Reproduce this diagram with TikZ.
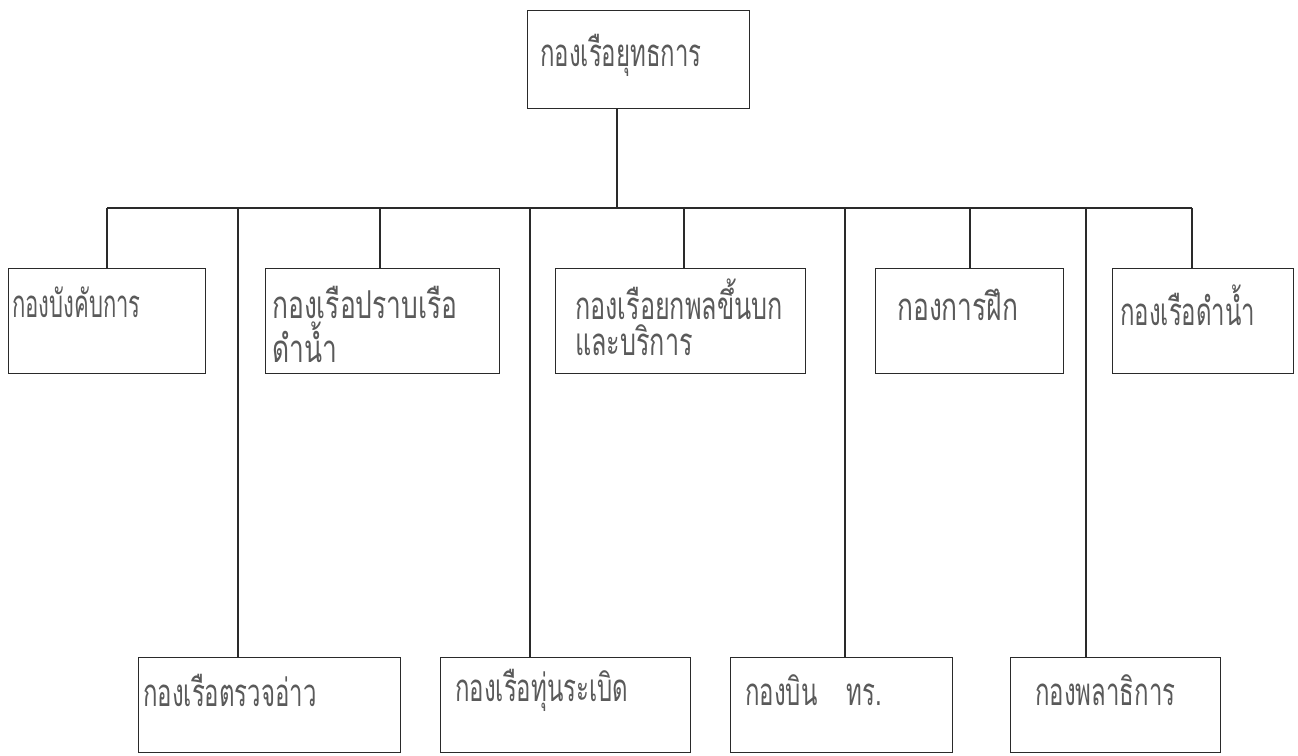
\documentclass[tikz,border=0pt]{standalone}
\usepackage{fontspec}
\newfontfamily\thaifont[Script=Thai]{Loma}
\definecolor{ink}{HTML}{2A2A2A}
\definecolor{txt}{HTML}{5A5A5A}
\begin{document}
\begin{tikzpicture}[x=1pt,y=-1pt,
  boxshape/.style={draw=ink, line width=1.4pt, inner sep=0pt, anchor=north west},
  wire/.style={draw=ink, line width=1.4pt},
  lbl/.style={anchor=west, inner sep=0pt, text=txt, font=\thaifont\fontsize{24}{28}\selectfont}]
\useasboundingbox (0,0) rectangle (1298,755);
% top box
\node[boxshape, minimum width=222pt, minimum height=98pt] (top) at (527,10) {};
\node[lbl] (ttop) at (540,55) {\scalebox{1}[1.6]{กองเรือยุทธการ}};
% bus
\coordinate (busL) at (107,208);
\coordinate (busR) at (1192,208);
\coordinate (busM) at (617,208);
\draw[wire] (top.south -| busM) -- (busM);
\draw[wire] (busL) -- (busR);
% row 1 boxes
\node[boxshape, minimum width=197pt, minimum height=105pt] (a1) at (8,268) {};
\node[boxshape, minimum width=234pt, minimum height=105pt] (a2) at (265,268) {};
\node[boxshape, minimum width=250pt, minimum height=105pt] (a3) at (555,268) {};
\node[boxshape, minimum width=188pt, minimum height=105pt] (a4) at (875,268) {};
\node[boxshape, minimum width=181pt, minimum height=105pt] (a5) at (1112,268) {};
\node[lbl] (ta1) at (12,302) {\scalebox{0.92}[1.6]{กองบังคับการ}};
\node[lbl] (ta2) at (272,302) {\scalebox{1.1}[1.6]{กองเรือปราบเรือ}};
\node[lbl] (ta2b) at (272,342) {\scalebox{1.1}[1.6]{ดำน้ำ}};
\node[lbl] (ta3) at (575,299) {\scalebox{1.05}[1.6]{กองเรือยกพลขึ้นบก}};
\node[lbl] (ta3b) at (575,340) {\scalebox{1.05}[1.6]{และบริการ}};
\node[lbl] (ta4) at (897,305) {\scalebox{1.1}[1.6]{กองการฝึก}};
\node[lbl] (ta5) at (1120,305) {\scalebox{1}[1.6]{กองเรือดำน้ำ}};
% row 2 boxes
\node[boxshape, minimum width=262pt, minimum height=95pt] (b1) at (138,657) {};
\node[boxshape, minimum width=250pt, minimum height=95pt] (b2) at (440,657) {};
\node[boxshape, minimum width=222pt, minimum height=95pt] (b3) at (730,657) {};
\node[boxshape, minimum width=210pt, minimum height=95pt] (b4) at (1010,657) {};
\node[lbl] (tb1) at (143,690) {\scalebox{1}[1.6]{กองเรือตรวจอ่าว}};
\node[lbl] (tb2) at (455,690) {\scalebox{1}[1.6]{กองเรือทุ่นระเบิด}};
\node[lbl] (tb3) at (745,690) {\scalebox{1}[1.6]{กองบิน\hspace{1.2em}ทร.}};
\node[lbl] (tb4) at (1035,690) {\scalebox{1}[1.6]{กองพลาธิการ}};
% short drops
\draw[wire] (a1.north -| busL) -- (busL);
\draw[wire] (a2.north west) ++(115,0) coordinate (d2) (d2) -- (d2 |- busL);
\draw[wire] (a3.north west) ++(129,0) coordinate (d3) (d3) -- (d3 |- busL);
\draw[wire] (a4.north west) ++(95,0) coordinate (d4) (d4) -- (d4 |- busL);
\draw[wire] (a5.north -| busR) -- (busR);
% long drops
\draw[wire] (b1.north west) ++(100,0) coordinate (e1) (e1) -- (e1 |- busL);
\draw[wire] (b2.north west) ++(90,0) coordinate (e2) (e2) -- (e2 |- busL);
\draw[wire] (b3.north west) ++(115,0) coordinate (e3) (e3) -- (e3 |- busL);
\draw[wire] (b4.north west) ++(76,0) coordinate (e4) (e4) -- (e4 |- busL);
\end{tikzpicture}
\end{document}
